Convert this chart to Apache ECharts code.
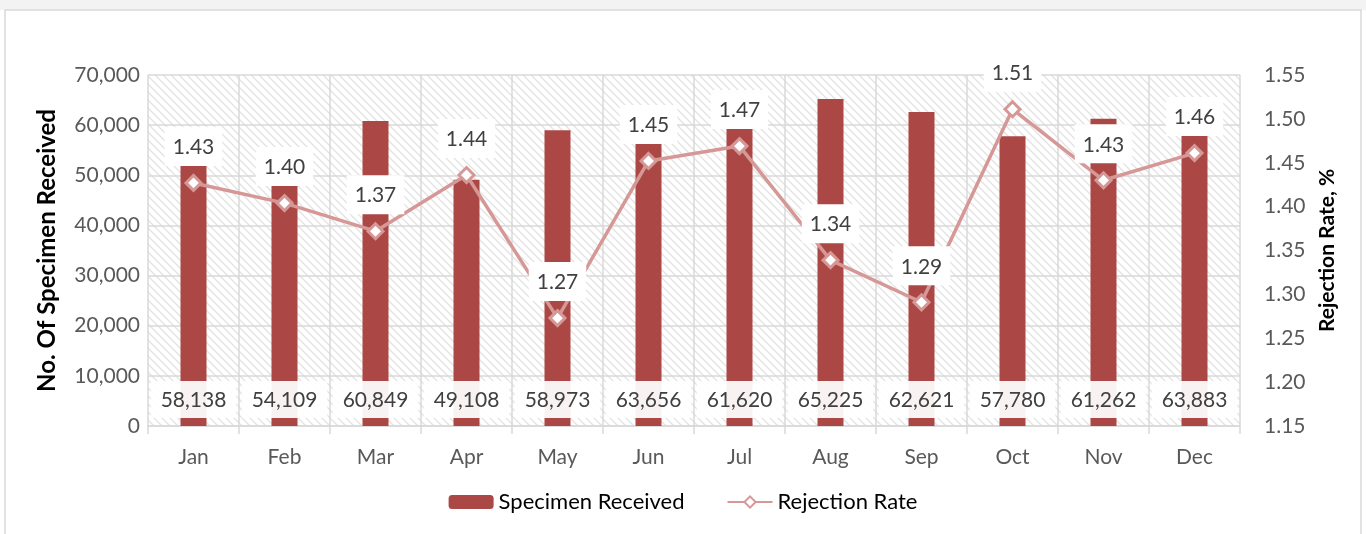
<!DOCTYPE html>
<html><head><meta charset="utf-8">
<script src="https://cdn.jsdelivr.net/npm/echarts@6/dist/echarts.min.js"></script>
<style>html,body{margin:0;padding:0;background:#fff}#c{width:1366px;height:534px}</style>
</head><body><div id="c"></div>
<script>
const months = ['Jan','Feb','Mar','Apr','May','Jun','Jul','Aug','Sep','Oct','Nov','Dec'];
const specimenReceived = [58138,54109,60849,49108,58973,63656,61620,65225,62621,57780,61262,63883];
const rejectionRate = [1.427,1.404,1.372,1.436,1.273,1.452,1.469,1.339,1.291,1.511,1.430,1.461];
const leftTicks = {min:0, max:70000, interval:10000};
const rightTicks = {min:1.15, max:1.55, interval:0.05};

const FONT = 'Lato, "Open Sans", sans-serif';
function hatch(){
  const c = document.createElement('canvas');
  c.width = 8; c.height = 8;
  const g = c.getContext('2d');
  g.fillStyle = '#ffffff'; g.fillRect(0,0,8,8);
  g.strokeStyle = '#e2e2e2'; g.lineWidth = 1.3;
  g.beginPath();
  g.moveTo(-2,-2); g.lineTo(10,10);
  g.moveTo(-6,2); g.lineTo(2,10);
  g.moveTo(6,-2); g.lineTo(10,2);
  g.stroke();
  return c;
}
const chart = echarts.init(document.getElementById('c'));
chart.setOption({
  animation:false,
  backgroundColor:'#fff',
  graphic:[
    {type:'rect', shape:{x:0,y:0,width:1366,height:10}, style:{fill:'#f3f3f3'}, silent:true, z:-10},
    {type:'rect', shape:{x:5,y:10,width:1356,height:540}, style:{fill:'#fff', stroke:'#d9d9d9', lineWidth:1.5}, silent:true, z:-9}
  ],
  grid:{left:148, right:126, top:75, bottom:108, show:true, borderWidth:0,
        backgroundColor:{image:hatch(), repeat:'repeat'}},
  legend:{bottom:16, left:'center', itemWidth:45, itemHeight:14, itemGap:42,
    textStyle:{fontFamily:FONT, fontSize:22, color:'#000'},
    data:['Specimen Received','Rejection Rate']},
  xAxis:{type:'category', data:months,
    axisLine:{lineStyle:{color:'#d9d9d9', width:1.5}},
    axisTick:{show:true, alignWithLabel:false, length:8, lineStyle:{color:'#d9d9d9', width:1.5}},
    splitLine:{show:true, lineStyle:{color:'#d9d9d9', width:1.5}},
    axisLabel:{fontFamily:FONT, fontSize:21, color:'#595959', margin:21}},
  yAxis:[
    {type:'value', min:leftTicks.min, max:leftTicks.max, interval:leftTicks.interval,
     name:'No. Of Specimen Received', nameLocation:'middle', nameGap:89, nameRotate:90,
     nameTextStyle:{fontFamily:FONT, fontSize:24, fontWeight:'bold', color:'#000'},
     axisLine:{show:false}, axisTick:{show:false},
     splitLine:{lineStyle:{color:'#d9d9d9', width:1.5}},
     axisLabel:{fontFamily:FONT, fontSize:21, color:'#595959', margin:8,
       formatter:v=>v.toLocaleString('en-US')}},
    {type:'value', min:rightTicks.min, max:rightTicks.max, interval:rightTicks.interval,
     name:'Rejection Rate, %', nameLocation:'middle', nameGap:77, nameRotate:90,
     nameTextStyle:{fontFamily:FONT, fontSize:21, fontWeight:'bold', color:'#000'},
     axisLine:{show:false}, axisTick:{show:false}, splitLine:{show:false},
     axisLabel:{fontFamily:FONT, fontSize:21, color:'#595959', margin:24,
       formatter:v=>v.toFixed(2)}}
  ],
  series:[
    {name:'Specimen Received', type:'bar', data:specimenReceived, barWidth:26,
     itemStyle:{color:'#AB4744'}, z:2,
     label:{show:true, position:'insideBottom', distance:8,
       fontFamily:FONT, fontSize:21, color:'#404040',
       backgroundColor:'rgba(255,255,255,0.93)', padding:[9,10,7,10],
       formatter:p=>p.value.toLocaleString('en-US')}},
    {name:'Rejection Rate', type:'line', yAxisIndex:1, data:rejectionRate, z:5,
     lineStyle:{color:'#D69896', width:3.5},
     itemStyle:{color:'#fff', borderColor:'#D69896', borderWidth:3},
     symbol:'diamond', symbolSize:15,
     label:{show:true, position:'top', distance:8,
       fontFamily:FONT, fontSize:21, color:'#404040',
       backgroundColor:'#fff', padding:[10,8,8,8],
       formatter:p=>p.value.toFixed(2)}}
  ]
});
</script></body></html>
